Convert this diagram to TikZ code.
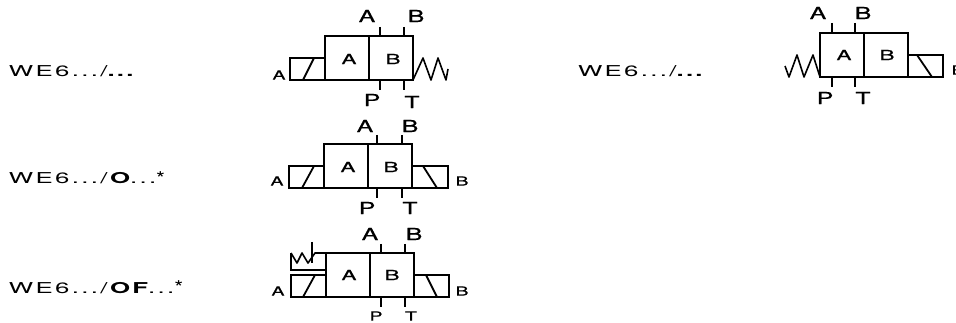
\documentclass[tikz,border=0pt]{standalone}
\usepackage{fontspec}
\usepackage{graphicx}
\setmainfont{TeX Gyre Heros}
\newfontfamily\spacedfont[LetterSpace=9]{TeX Gyre Heros}
\newfontfamily\heavyfont[FakeBold=0.6]{TeX Gyre Heros}
\newcommand{\widetxt}[2]{\scalebox{#1}[1]{#2}}
\newcommand{\maintxt}[1]{\fontsize{15}{15}\spacedfont\widetxt{1.72}{#1}}
\newcommand{\portA}[1]{\fontsize{16.5}{17}\heavyfont\widetxt{1.5}{#1}}
\newcommand{\cellA}[1]{\fontsize{14}{14}\heavyfont\widetxt{1.6}{#1}}
\newcommand{\sideA}[1]{\fontsize{12.5}{13}\heavyfont\widetxt{1.55}{#1}}
\newcommand{\bigstar}{\raisebox{-1.5pt}{\fontsize{19}{19}\selectfont\scalebox{0.7}[1]{*}}}
\tikzset{
  sym/.style={draw=black,line width=1.8pt,line join=miter},
  thin sym/.style={draw=black,line width=1.6pt,line join=round},
  lbl/.style={inner sep=0pt,outer sep=0pt,anchor=center,text=black},
  txt/.style={inner sep=0pt,outer sep=0pt,anchor=base west,text=black}
}
\begin{document}
\begin{tikzpicture}[x=1pt,y=-1pt]
\useasboundingbox[fill=white] (0,0) rectangle (956,323);

% texts
\node[txt] (t1) at (9,77) {\maintxt{WE6.../\textbf{...}}};
\node[txt] (t2) at (9,184) {\maintxt{WE6.../\textbf{O}...\bigstar}};
\node[txt] (t3) at (9,293) {\maintxt{WE6.../\textbf{OF}...\bigstar}};
\node[txt] (t4) at (578,77) {\maintxt{WE6.../\textbf{...}}};

% symbol 1
\draw[sym] (325,36) rectangle (413,80) (369,36) -- (369,80);
\draw[sym] (325,58) -- (290,58) -- (290,80) -- (325,80);
\draw[sym] (303,80) -- (314,58);
\draw[sym] (380,27) -- (380,36) (404,27) -- (404,36) (380,80) -- (380,90) (404,80) -- (404,90);
\draw[thin sym] (413,80) -- (423,58) -- (431,80) -- (438,58) -- (446,80) -- (448,69);
\node[lbl] (a1) at (367,16) {\portA{A}};
\node[lbl] (b1) at (416,16) {\portA{B}};
\node[lbl] (p1) at (372,100) {\portA{P}};
\node[lbl] (q1) at (412,102) {\portA{T}};
\node[lbl] (c1) at (349,59) {\cellA{A}};
\node[lbl] (d1) at (393,59) {\cellA{B}};
\node[lbl] (s1) at (279,75) {\sideA{A}};

% symbol 2
\draw[sym] (324,144) rectangle (412,188) (368,144) -- (368,188);
\draw[sym] (324,166) -- (289,166) -- (289,188) -- (324,188);
\draw[sym] (302,188) -- (314,166);
\draw[sym] (412,166) -- (448,166) -- (448,188) -- (412,188);
\draw[sym] (423,166) -- (437,188);
\draw[sym] (377,135) -- (377,144) (402,135) -- (402,144) (377,188) -- (377,198) (402,188) -- (402,198);
\node[lbl] (a2) at (365,126) {\portA{A}};
\node[lbl] (b2) at (410,126) {\portA{B}};
\node[lbl] (p2) at (367,208) {\portA{P}};
\node[lbl] (q2) at (410,208) {\portA{T}};
\node[lbl] (c2) at (348,167) {\cellA{A}};
\node[lbl] (d2) at (391,167) {\cellA{B}};
\node[lbl] (s2) at (277,181) {\sideA{A}};
\node[lbl] (e2) at (462,181) {\sideA{B}};

% symbol 3
\draw[sym] (326,253) rectangle (414,297) (370,253) -- (370,297);
\draw[sym] (326,275) -- (291,275) -- (291,297) -- (326,297);
\draw[sym] (303,297) -- (315,275);
\draw[sym] (414,275) -- (449,275) -- (449,297) -- (414,297);
\draw[sym] (426,275) -- (437,297);
\draw[sym] (326,270) -- (291,270) -- (291,253);
\draw[thin sym] (291,253) -- (297,263) -- (302,253) -- (308,263) -- (315,253) -- (326,253);
\draw[thin sym] (312,242) -- (312,263);
\draw[sym] (381,244) -- (381,253) (405,244) -- (405,253) (381,297) -- (381,307) (405,297) -- (405,307);
\node[lbl] (a3) at (370,234) {\portA{A}};
\node[lbl] (b3) at (414,234) {\portA{B}};
\node[lbl] (p3) at (376,316) {\sideA{P}};
\node[lbl] (q3) at (411,316) {\sideA{T}};
\node[lbl] (c3) at (349,275) {\cellA{A}};
\node[lbl] (d3) at (392,275) {\cellA{B}};
\node[lbl] (s3) at (278,291) {\sideA{A}};
\node[lbl] (e3) at (462,291) {\sideA{B}};

% symbol 4
\draw[sym] (820,33) rectangle (908,77) (864,33) -- (864,77);
\draw[sym] (908,55) -- (943,55) -- (943,77) -- (908,77);
\draw[sym] (917,55) -- (932,77);
\draw[sym] (832,23) -- (832,33) (855,23) -- (855,33) (832,77) -- (832,87) (855,77) -- (855,87);
\draw[thin sym] (820,77) -- (813,55) -- (804,77) -- (797,55) -- (789,77) -- (785,66);
\node[lbl] (a4) at (818,13) {\portA{A}};
\node[lbl] (b4) at (863,13) {\portA{B}};
\node[lbl] (p4) at (825,98) {\portA{P}};
\node[lbl] (q4) at (863,98) {\portA{T}};
\node[lbl] (c4) at (844,55) {\cellA{A}};
\node[lbl] (d4) at (887,55) {\cellA{B}};
\begin{scope}
\clip (0,0) rectangle (956,323);
\node[lbl] (e4) at (958,70) {\sideA{B}};
\end{scope}
\end{tikzpicture}
\end{document}
